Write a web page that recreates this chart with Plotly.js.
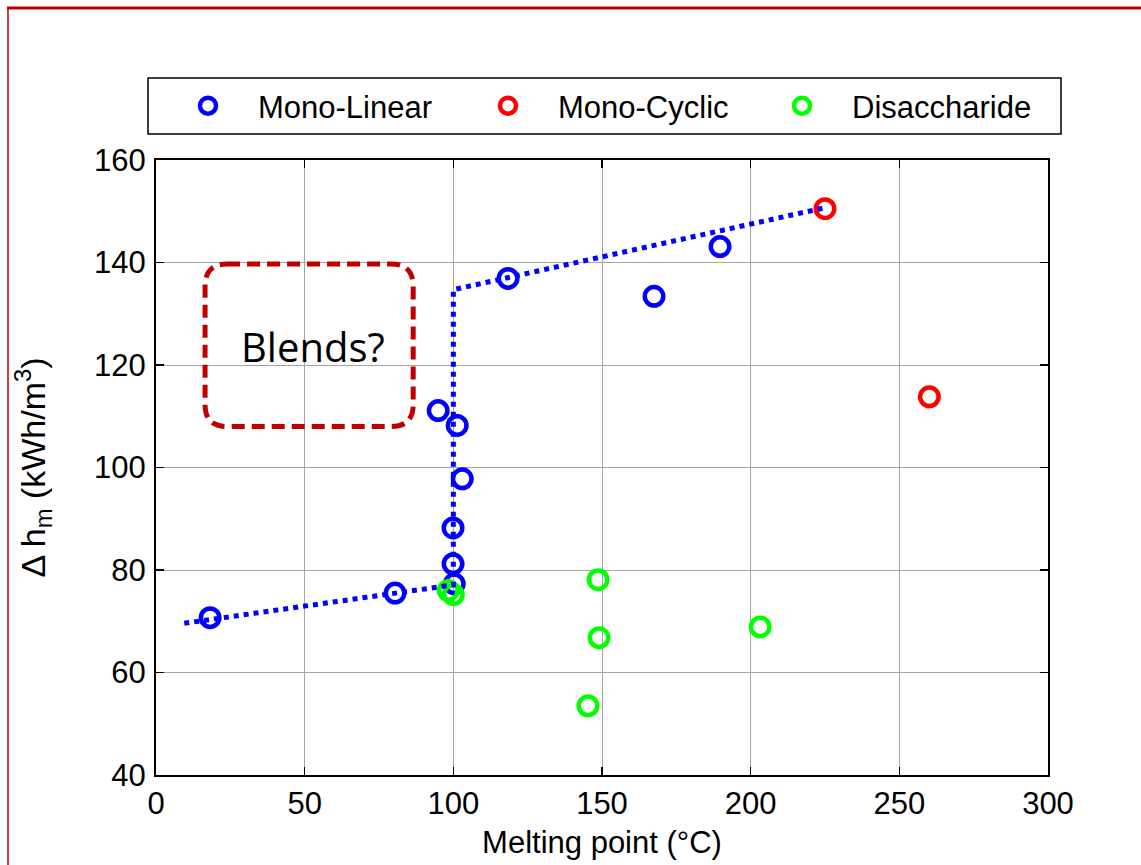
<!DOCTYPE html>
<html><head><meta charset="utf-8">
<script src="https://cdn.plot.ly/plotly-3.0.1.min.js"></script>
<style>html,body{margin:0;padding:0;background:#fff;} #chart{width:1141px;height:865px;}</style>
</head><body><div id="chart"></div>
<script>
// ---- data ----
const monoLinearX = [18.2, 80.4, 94.9, 101.3, 103.0, 99.9, 99.9, 100.3, 118.4, 167.5, 189.7];
const monoLinearY = [70.7, 75.5, 111.1, 108.2, 97.8, 88.2, 81.2, 77.3, 136.9, 133.4, 143.1];
const monoCyclicX = [225.0, 260.1];
const monoCyclicY = [150.5, 113.8];
const disaccharideX = [98.3, 100.0, 148.7, 149.0, 203.2, 145.3];
const disaccharideY = [76.0, 75.2, 78.1, 66.8, 68.9, 53.5];
const trendX = [9.5, 100, 100, 225];
const trendY = [69.6, 77.1, 134.7, 150.7];
const blendsX = [16.5, 86.5];
const blendsY = [108.0, 139.7];
const blendsLabel = "Blends?";
const seriesNames = ["Mono-Linear", "Mono-Cyclic", "Disaccharide"];
const xTicks = [0, 50, 100, 150, 200, 250, 300];
const yTicks = [40, 60, 80, 100, 120, 140, 160];

// ---- layout helpers ----
const W = 1141, H = 865;
const M = {l: 156, r: 93, t: 160, b: 90};
const PW = W - M.l - M.r, PH = H - M.t - M.b;
const px = v => (v - M.l) / PW;          // pixel x -> paper
const py = v => (H - M.b - v) / PH;      // pixel y -> paper
const FONT = "Liberation Sans, Arial, sans-serif";

function marker(color) {
  return {symbol: 'circle-open', size: 18.5, color: color, line: {color: color, width: 4.5}};
}

const traces = [
  {x: monoLinearX, y: monoLinearY, name: seriesNames[0], type: 'scatter', mode: 'markers', marker: marker('rgb(0,0,255)'), legend: 'legend'},
  {x: monoCyclicX, y: monoCyclicY, name: seriesNames[1], type: 'scatter', mode: 'markers', marker: marker('rgb(255,0,0)'), legend: 'legend2'},
  {x: disaccharideX, y: disaccharideY, name: seriesNames[2], type: 'scatter', mode: 'markers', marker: marker('rgb(0,255,0)'), legend: 'legend3'},
  {x: trendX, y: trendY, type: 'scatter', mode: 'lines', showlegend: false, hoverinfo: 'skip',
   line: {color: 'rgb(0,0,255)', width: 5, dash: '5px,5px'}}
];

// rounded rectangle path for the "Blends?" box
const rx = 7.4, ry = 4.3;
const x0 = blendsX[0], x1 = blendsX[1], y0 = blendsY[0], y1 = blendsY[1];
const boxPath = `M ${x0+rx},${y1} L ${x1-rx},${y1} Q ${x1},${y1} ${x1},${y1-ry} L ${x1},${y0+ry} Q ${x1},${y0} ${x1-rx},${y0} ` +
  `L ${x0+rx},${y0} Q ${x0},${y0} ${x0},${y0+ry} L ${x0},${y1-ry} Q ${x0},${y1} ${x0+rx},${y1} Z`;

const axisCommon = {
  showline: true, linecolor: 'black', linewidth: 2, mirror: 'ticks',
  ticks: 'inside', ticklen: 8, tickwidth: 1.5, tickcolor: 'black',
  showgrid: true, gridcolor: 'rgb(165,165,165)', gridwidth: 1,
  zeroline: false, tickfont: {family: FONT, size: 31, color: 'black'}
};

function legendAt(markerPx) {
  return {
    orientation: 'v', x: px(markerPx - 50), xanchor: 'left', y: py(106), yanchor: 'middle',
    bgcolor: 'rgba(0,0,0,0)', borderwidth: 0, itemwidth: 90,
    font: {family: FONT, size: 31, color: 'black'}
  };
}

const layout = {
  width: W, height: H,
  margin: M,
  paper_bgcolor: 'white', plot_bgcolor: 'white',
  font: {family: FONT, size: 31, color: 'black'},
  showlegend: true,
  xaxis: Object.assign({}, axisCommon, {
    range: [0, 300], tickvals: xTicks, ticktext: xTicks.map(String), ticklabelstandoff: 0,
    title: {text: 'Melting point (°C)', font: {family: FONT, size: 31, color: 'black'}, standoff: 11}
  }),
  yaxis: Object.assign({}, axisCommon, {
    range: [40, 160], tickvals: yTicks, ticktext: yTicks.map(String), ticklabelstandoff: 2,
    title: {text: 'Δ h<sub>m</sub> (kWh/m<sup>3</sup>)', font: {family: FONT, size: 34, color: 'black'}, standoff: 38}
  }),
  legend: legendAt(208),
  legend2: legendAt(508),
  legend3: legendAt(802),
  shapes: [
    // legend frame
    {type: 'rect', xref: 'paper', yref: 'paper', x0: px(148), x1: px(1061), y0: py(134), y1: py(78),
     line: {color: 'black', width: 1.5}, fillcolor: 'rgba(0,0,0,0)'},
    // blends box
    {type: 'path', xref: 'x', yref: 'y', path: boxPath,
     line: {color: 'rgb(192,0,0)', width: 5, dash: '13px,7px'}, fillcolor: 'rgba(0,0,0,0)'},
    // outer red frame (top and left)
    {type: 'line', xref: 'paper', yref: 'paper', x0: px(7), x1: px(1145), y0: py(8), y1: py(8),
     line: {color: 'rgb(192,0,0)', width: 3}},
    {type: 'line', xref: 'paper', yref: 'paper', x0: px(8), x1: px(8), y0: py(7), y1: py(870),
     line: {color: 'rgb(192,0,0)', width: 1.5}}
  ],
  annotations: [
    {x: (blendsX[0] + blendsX[1]) / 2 + 1.3, y: 123.7, xref: 'x', yref: 'y', text: blendsLabel, showarrow: false,
     font: {family: 'Open Sans, sans-serif', size: 40, color: 'black'}, xanchor: 'center', yanchor: 'middle'}
  ]
};

Plotly.newPlot('chart', traces, layout, {displayModeBar: false, staticPlot: true});
</script>
</body></html>
